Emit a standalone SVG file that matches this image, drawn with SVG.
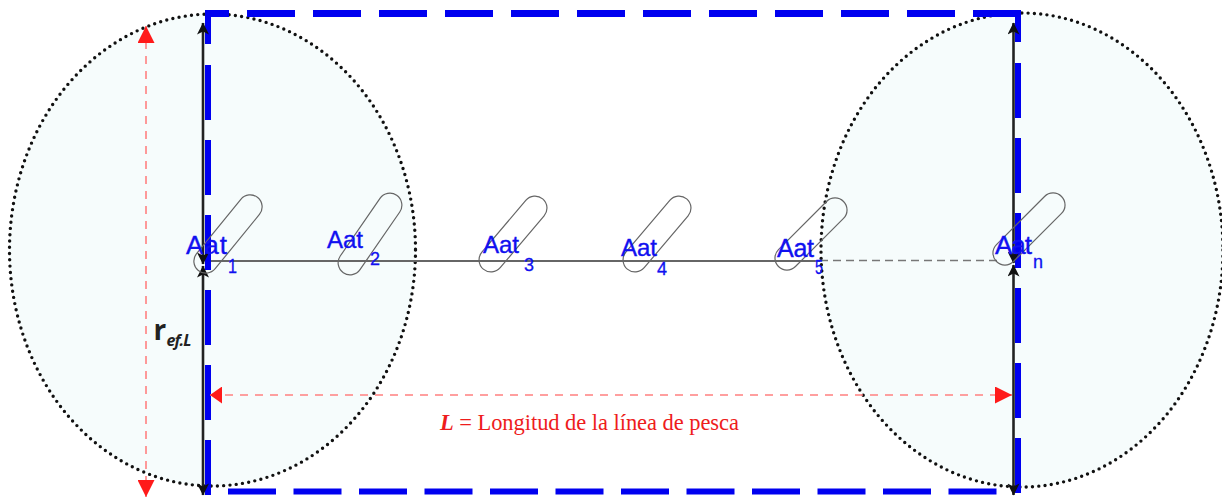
<svg xmlns="http://www.w3.org/2000/svg" width="1222" height="497" viewBox="0 0 1222 497">
<style>
.zone{fill:#f6fcfc;stroke:#111;stroke-width:3.4;stroke-linecap:round;stroke-dasharray:0 6.3}
.blue{stroke:#0000f0;fill:none}
.blk{stroke:#222;stroke-width:2.6;fill:none}
.red{stroke:#ff8080;stroke-width:1.6;stroke-dasharray:8 7;fill:none}
.cap{fill:none;stroke:#666;stroke-width:1.2}
.aat{font-family:"Liberation Sans",Arial,sans-serif;font-size:24px;fill:#1010f0;stroke:#1010f0;stroke-width:.4}
.sub{font-family:"Liberation Sans",Arial,sans-serif;font-size:18px;fill:#1010f0;stroke:#1010f0;stroke-width:.3}
</style>
<defs>
<marker id="bk" viewBox="0 0 10 10" refX="9.500" refY="5" markerWidth="13" markerHeight="12" markerUnits="userSpaceOnUse" orient="auto-start-reverse"><path d="M0 0L10 5L0 10L2.500 5Z" fill="#111"/></marker>
<marker id="rd" viewBox="0 0 10 10" refX="10" refY="5" markerWidth="17" markerHeight="17" markerUnits="userSpaceOnUse" orient="auto-start-reverse"><path d="M0 0L10 5L0 10Z" fill="#ff1a1a"/></marker>
<marker id="rs" viewBox="0 0 10 10" refX="10" refY="5" markerWidth="12" markerHeight="17" markerUnits="userSpaceOnUse" preserveAspectRatio="none" orient="auto-start-reverse"><path d="M0 0L10 5L0 10Z" fill="#ff1a1a"/></marker>
</defs>
<g id="zone-left"><ellipse class="zone" cx="212.500" cy="250" rx="203" ry="236"/></g>
<g id="zone-right"><ellipse class="zone" cx="1022" cy="250" rx="201" ry="237"/></g>
<g id="connectors">
<path d="M205 261H820" stroke="#666" stroke-width="1.800" fill="none"/>
<path d="M820 260.500H1000" stroke="#777" stroke-width="1.400" stroke-dasharray="8 5" fill="none"/>
<g class="blue">
<path stroke-width="7" d="M205 13.500H229M247 13.500H1021" stroke-dasharray="48 18"/>
<path stroke-width="6" d="M228 491.500H1002" stroke-dasharray="48 17.500"/>
<path stroke-width="6" d="M208 10V44M208 65V495" stroke-dasharray="55 20"/>
<path stroke-width="6" d="M1018 10V42M1018 63V495" stroke-dasharray="55 20"/>
</g>
<g class="blk">
<path d="M203 23V264" marker-start="url(#bk)" marker-end="url(#bk)"/>
<path d="M203 266V495" marker-start="url(#bk)" marker-end="url(#bk)"/>
<path d="M1013.500 23V263" marker-start="url(#bk)" marker-end="url(#bk)"/>
<path d="M1013.500 265V495" marker-start="url(#bk)" marker-end="url(#bk)"/>
</g>
<path class="red" d="M146 26V497" marker-start="url(#rd)" marker-end="url(#rd)"/>
<path class="red" d="M210 395H1012" marker-start="url(#rs)" marker-end="url(#rd)"/>
</g>
<g id="aat-1"><rect class="cap" x="-47" y="-12" width="94" height="24" rx="12" transform="translate(228 234) rotate(-50.800)"/><text class="aat" x="186" y="254" textLength="41" style="font-size:26px">Aat</text><text class="sub" x="228" y="273" style="font-size:20px" textLength="9" lengthAdjust="spacingAndGlyphs">1</text></g>
<g id="aat-2"><rect class="cap" x="-47" y="-12" width="94" height="24" rx="12" transform="translate(370 234) rotate(-55.400)"/><text class="aat" x="327" y="248" textLength="36">Aat</text><text class="sub" x="370" y="265">2</text></g>
<g id="aat-3"><rect class="cap" x="-46" y="-12" width="92" height="24" rx="12" transform="translate(513 234) rotate(-49.800)"/><text class="aat" x="483" y="253" textLength="36">Aat</text><text class="sub" x="524" y="271">3</text></g>
<g id="aat-4"><rect class="cap" x="-46" y="-12" width="92" height="24" rx="12" transform="translate(657 234) rotate(-49.800)"/><text class="aat" x="621" y="256" textLength="36">Aat</text><text class="sub" x="657" y="275">4</text></g>
<g id="aat-5"><rect class="cap" x="-46" y="-12" width="92" height="24" rx="12" transform="translate(811 234) rotate(-45)"/><text class="aat" x="777" y="257" textLength="37" style="font-size:25px">Aat</text><text class="sub" x="815" y="274" style="font-size:21px" textLength="8" lengthAdjust="spacingAndGlyphs">5</text></g>
<g id="aat-n"><rect class="cap" x="-46" y="-12" width="92" height="24" rx="12" transform="translate(1029 229) rotate(-45)"/><text class="aat" x="995" y="254" textLength="37" style="font-size:26px">Aat</text><text class="sub" x="1033" y="268">n</text></g>
<g id="labels">
<text x="153.500" y="340" font-family="'Open Sans',sans-serif" font-size="28" font-weight="700" fill="#222">r</text>
<text x="166.500" y="346" font-family="'Open Sans',sans-serif" font-size="16" font-weight="700" font-style="italic" fill="#222" textLength="25">ef.L</text>
<text x="440" y="430" font-family="'Liberation Serif',serif" font-size="22.500" fill="#ee1c1c" textLength="299"><tspan font-weight="700" font-style="italic">L</tspan> = Longitud de la línea de pesca</text>
</g>
</svg>
